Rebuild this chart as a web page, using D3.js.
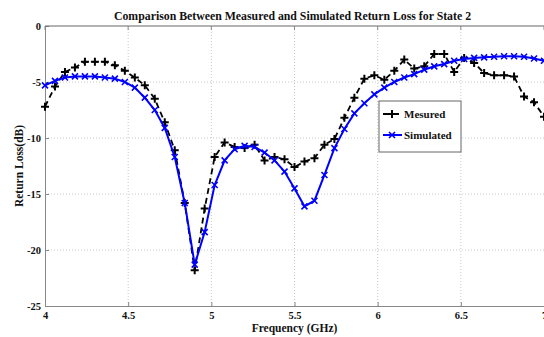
<!DOCTYPE html>
<html>
<head>
<meta charset="utf-8">
<script src="https://cdn.jsdelivr.net/npm/d3@7"></script>
<style>
  html, body { margin: 0; padding: 0; background: #fff; }
  svg { display: block; }
</style>
</head>
<body>
<svg id="chart" width="544" height="337"></svg>
<script>
// ---- data ----
const freq = [4.00,4.06,4.12,4.18,4.24,4.30,4.36,4.42,4.48,4.54,4.60,4.66,4.72,4.78,4.84,4.90,4.96,5.02,5.08,5.14,
              5.20,5.26,5.32,5.38,5.44,5.50,5.56,5.62,5.68,5.74,5.80,5.86,5.92,5.98,6.04,6.10,6.16,6.22,6.28,6.34,
              6.40,6.46,6.52,6.58,6.64,6.70,6.76,6.82,6.88,6.94,7.00];
const measured = [-7.2,-5.4,-4.1,-3.7,-3.2,-3.2,-3.2,-3.5,-4.0,-4.6,-5.3,-6.5,-8.6,-11.1,-15.8,-21.8,-16.3,-11.7,-10.4,-10.8,
                  -10.9,-10.6,-12.0,-11.7,-11.9,-12.6,-12.1,-11.8,-10.6,-10.1,-8.2,-6.4,-4.7,-4.4,-4.8,-4.0,-3.0,-3.8,-3.6,-2.5,
                  -2.5,-4.1,-2.85,-3.3,-4.2,-4.4,-4.4,-4.5,-6.3,-6.8,-8.1];
const simulated = [-5.3,-4.9,-4.6,-4.5,-4.5,-4.5,-4.6,-4.7,-5.0,-5.5,-6.4,-7.5,-9.1,-11.7,-15.8,-21.3,-18.4,-14.2,-12.0,-11.0,
                   -10.7,-10.8,-11.3,-12.0,-13.0,-14.5,-16.1,-15.6,-13.3,-10.9,-9.2,-7.8,-6.9,-6.1,-5.5,-5.0,-4.6,-4.3,-3.9,-3.6,
                   -3.4,-3.1,-2.95,-2.85,-2.8,-2.75,-2.7,-2.7,-2.75,-2.9,-3.1];
const xTicks = [4, 4.5, 5, 5.5, 6, 6.5, 7];
const xTickLabels = ["4", "4.5", "5", "5.5", "6", "6.5", "7"];
const yTicks = [0, -5, -10, -15, -20, -25];
const yTickLabels = ["0", "-5", "-10", "-15", "-20", "-25"];
const seriesNames = ["Mesured", "Simulated"];
const titleText = "Comparison Between Measured and Simulated Return Loss for State 2";
const xLabelText = "Frequency (GHz)";
const yLabelText = "Return Loss(dB)";

// ---- layout ----
const svg = d3.select("#chart");
const L = 45, R = 544, T = 26, B = 306;
const x = d3.scaleLinear().domain([4, 7]).range([L, R]);
const y = d3.scaleLinear().domain([-25, 0]).range([B, T]);
const serif = "'Liberation Serif', 'DejaVu Serif', serif";

// grid
const grid = svg.append("g");
grid.selectAll("line.gx").data(xTicks.slice(1, -1)).enter().append("line")
  .attr("x1", d => x(d)).attr("x2", d => x(d)).attr("y1", T).attr("y2", B)
  .attr("stroke", "#bbb").attr("stroke-width", 0.8).attr("stroke-dasharray", "1,2");
grid.selectAll("line.gy").data(yTicks.slice(1, -1)).enter().append("line")
  .attr("x1", L).attr("x2", R).attr("y1", d => y(d)).attr("y2", d => y(d))
  .attr("stroke", "#bbb").attr("stroke-width", 0.8).attr("stroke-dasharray", "1,2");

// axes
const xAxis = d3.axisBottom(x).tickValues(xTicks).tickFormat((d, i) => xTickLabels[i]).tickSizeInner(-4).tickSizeOuter(0).tickPadding(6);
const gx = svg.append("g").attr("transform", `translate(0,${B})`).call(xAxis);
const yAxis = d3.axisLeft(y).tickValues(yTicks).tickFormat((d, i) => yTickLabels[i]).tickSizeInner(-4).tickSizeOuter(0).tickPadding(4);
const gy = svg.append("g").attr("transform", `translate(${L},0)`).call(yAxis);
[gx, gy].forEach(g => {
  g.select(".domain").attr("stroke", "#888").attr("stroke-width", 1);
  g.selectAll(".tick line").attr("stroke", "#888");
  g.selectAll(".tick text").attr("font-family", serif).attr("font-size", 10.5).attr("font-weight", "bold").attr("fill", "#111");
});
// top border
svg.append("line").attr("x1", L).attr("x2", R).attr("y1", T).attr("y2", T).attr("stroke", "#666").attr("stroke-width", 1);
// top ticks
svg.append("g").selectAll("line").data(xTicks).enter().append("line")
  .attr("x1", d => x(d)).attr("x2", d => x(d)).attr("y1", T).attr("y2", T + 4).attr("stroke", "#888");

// lines
const line = d3.line().x((d, i) => x(freq[i])).y(d => y(d));
const plot = svg.append("g");
plot.append("path").datum(measured).attr("d", line).attr("fill", "none")
  .attr("stroke", "#000").attr("stroke-width", 1.8).attr("stroke-dasharray", "6,4");
plot.append("g").selectAll("path").data(measured).enter().append("path")
  .attr("transform", (d, i) => `translate(${x(freq[i])},${y(d)})`)
  .attr("d", "M-4,0H4M0,-4V4").attr("stroke", "#000").attr("stroke-width", 2);

plot.append("path").datum(simulated).attr("d", line).attr("fill", "none")
  .attr("stroke", "#0000ff").attr("stroke-width", 2);
plot.append("g").selectAll("path").data(simulated).enter().append("path")
  .attr("transform", (d, i) => `translate(${x(freq[i])},${y(d)})`)
  .attr("d", "M-3,-3L3,3M-3,3L3,-3").attr("stroke", "#0000ff").attr("stroke-width", 1.6);

// title & labels
svg.append("text").attr("x", (L + R) / 2 - 2).attr("y", 20).attr("text-anchor", "middle")
  .attr("font-family", serif).attr("font-size", 11.8).attr("font-weight", "bold").attr("fill", "#111").text(titleText);
svg.append("text").attr("x", (L + R) / 2).attr("y", 332).attr("text-anchor", "middle")
  .attr("font-family", serif).attr("font-size", 11.5).attr("font-weight", "bold").attr("fill", "#111").text(xLabelText);
svg.append("text").attr("transform", `translate(23,${(T + B) / 2}) rotate(-90)`).attr("text-anchor", "middle")
  .attr("font-family", serif).attr("font-size", 11.5).attr("font-weight", "bold").attr("fill", "#111").text(yLabelText);

// legend
const lg = svg.append("g");
lg.append("rect").attr("x", 379).attr("y", 101).attr("width", 82).attr("height", 51)
  .attr("fill", "#fff").attr("stroke", "#666").attr("stroke-width", 1);
const rows = [
  { name: seriesNames[0], color: "#000", dash: "6,4", mark: "M-4,0H4M0,-4V4", w: 2, ly: 114 },
  { name: seriesNames[1], color: "#0000ff", dash: null, mark: "M-3,-3L3,3M-3,3L3,-3", w: 1.6, ly: 135 }
];
rows.forEach(r => {
  lg.append("line").attr("x1", 383).attr("x2", 402).attr("y1", r.ly).attr("y2", r.ly)
    .attr("stroke", r.color).attr("stroke-width", r.dash ? 1.8 : 2).attr("stroke-dasharray", r.dash);
  lg.append("path").attr("transform", `translate(392,${r.ly})`).attr("d", r.mark)
    .attr("stroke", r.color).attr("stroke-width", r.w);
  lg.append("text").attr("x", 404).attr("y", r.ly + 4).attr("font-family", serif).attr("font-size", 11)
    .attr("font-weight", "bold").attr("fill", "#111").text(r.name);
});
</script>
</body>
</html>
